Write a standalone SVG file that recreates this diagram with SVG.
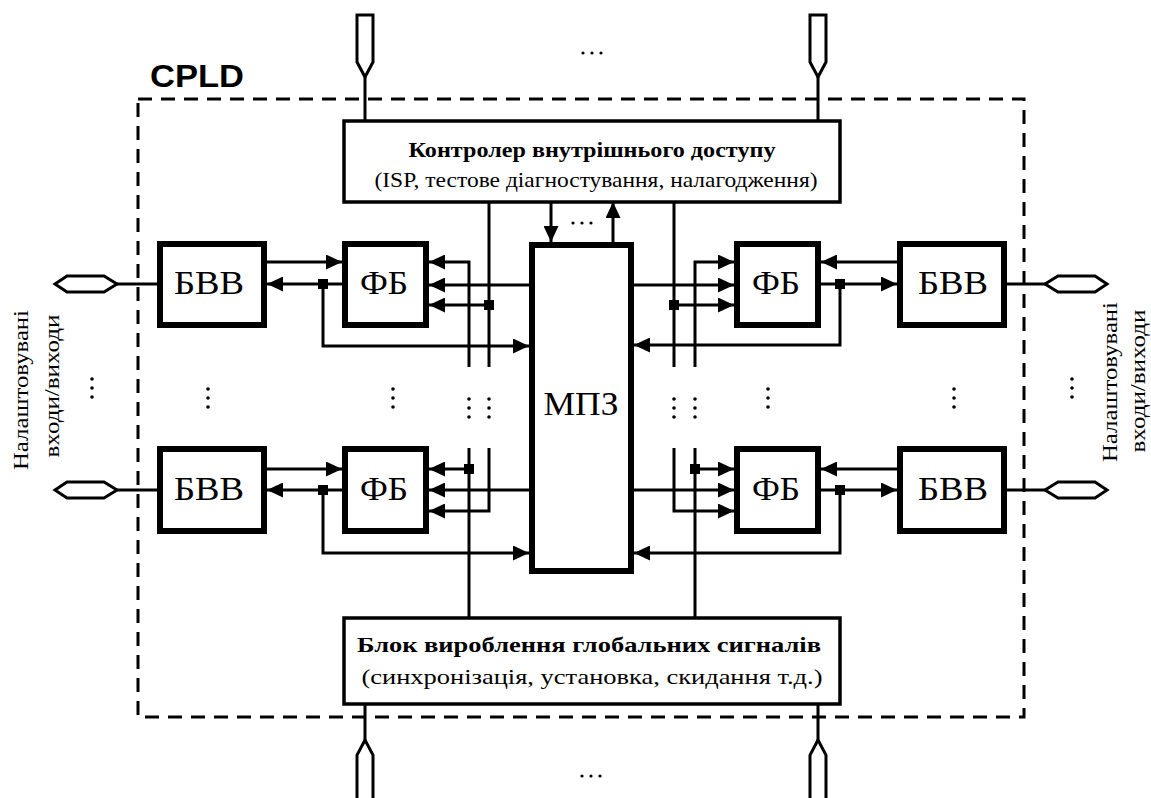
<svg xmlns="http://www.w3.org/2000/svg" width="1151" height="798" viewBox="0 0 1151 798">
<style>
.bx{fill:#fff;stroke:#000;stroke-width:6}
.cb{fill:#fff;stroke:#000;stroke-width:3.5}
.ln{fill:none;stroke:#000;stroke-width:3}
.pin{fill:#fff;stroke:#000;stroke-width:3;stroke-linejoin:miter}
.t{font-family:"Liberation Serif","DejaVu Serif","Times New Roman",serif;fill:#000}
.big{font-size:33px}
.ttl{font-size:22px;font-weight:bold}
.sub{font-size:21px}
.rot{font-size:22px}
.dot{fill:#000}
</style>
<defs>
<marker id="a" markerUnits="userSpaceOnUse" markerWidth="17" markerHeight="15" refX="16" refY="7.5" orient="auto">
<path d="M0,0 L16,7.5 L0,15 z" fill="#000"/>
</marker>
<g id="vd"><circle cx="0" cy="0" r="1.8"/><circle cx="0" cy="9" r="1.8"/><circle cx="0" cy="18" r="1.8"/></g>
<g id="hd"><circle cx="0" cy="0" r="1.6"/><circle cx="9" cy="0" r="1.6"/><circle cx="18" cy="0" r="1.6"/></g>
</defs>
<rect x="0" y="0" width="1151" height="798" fill="#fff"/>
<g id="cpld-frame">
<rect x="138" y="99" width="886" height="618" fill="none" stroke="#000" stroke-width="3" stroke-dasharray="14 9"/>
<text x="150" y="87" font-family="Liberation Sans, Arial, sans-serif" font-size="31" font-weight="bold" textLength="94" lengthAdjust="spacingAndGlyphs">CPLD</text>
</g>
<g id="connectors">
<path class="ln" d="M365,77 V120 M818,77 V120"/>
<path class="ln" d="M365,704 V740 M818,704 V740"/>
<path class="ln" d="M551,202 V242" marker-end="url(#a)"/>
<path class="ln" d="M613,242 V202" marker-end="url(#a)"/>
<path class="ln" d="M117,284 H157 M117,490 H157"/>
<path class="ln" d="M1007,284 H1045 M1007,490 H1045"/>
<path class="ln" d="M267,262 H342" marker-end="url(#a)"/>
<path class="ln" d="M342,284 H267" marker-end="url(#a)"/>
<path class="ln" d="M323,284 V346 H529" marker-end="url(#a)"/>
<path class="ln" d="M469,367 V262 H429" marker-end="url(#a)"/>
<path class="ln" d="M529,285 H429" marker-end="url(#a)"/>
<path class="ln" d="M489,305 H429" marker-end="url(#a)"/>
<path class="ln" d="M489,202 V367"/>
<path class="ln" d="M267,469 H342" marker-end="url(#a)"/>
<path class="ln" d="M342,490 H267" marker-end="url(#a)"/>
<path class="ln" d="M323,490 V553 H529" marker-end="url(#a)"/>
<path class="ln" d="M469,448 V618"/>
<path class="ln" d="M469,469 H429" marker-end="url(#a)"/>
<path class="ln" d="M529,490 H429" marker-end="url(#a)"/>
<path class="ln" d="M489,448 V511 H429" marker-end="url(#a)"/>
<path class="ln" d="M674,202 V367"/>
<path class="ln" d="M674,305 H734" marker-end="url(#a)"/>
<path class="ln" d="M695,367 V262 H734" marker-end="url(#a)"/>
<path class="ln" d="M634,285 H734" marker-end="url(#a)"/>
<path class="ln" d="M897,262 H821" marker-end="url(#a)"/>
<path class="ln" d="M821,284 H897" marker-end="url(#a)"/>
<path class="ln" d="M840,284 V345 H634" marker-end="url(#a)"/>
<path class="ln" d="M674,448 V511 H734" marker-end="url(#a)"/>
<path class="ln" d="M695,448 V618"/>
<path class="ln" d="M695,469 H734" marker-end="url(#a)"/>
<path class="ln" d="M634,490 H734" marker-end="url(#a)"/>
<path class="ln" d="M897,469 H821" marker-end="url(#a)"/>
<path class="ln" d="M821,490 H897" marker-end="url(#a)"/>
<path class="ln" d="M840,490 V553 H634" marker-end="url(#a)"/>
<g fill="#000">
<rect x="318" y="279" width="10" height="10"/>
<rect x="484" y="300" width="10" height="10"/>
<rect x="318" y="485" width="10" height="10"/>
<rect x="464" y="464" width="10" height="10"/>
<rect x="669" y="300" width="10" height="10"/>
<rect x="835" y="279" width="10" height="10"/>
<rect x="690" y="464" width="10" height="10"/>
<rect x="835" y="485" width="10" height="10"/>
</g>
</g>
<g id="pin-top-1"><polygon class="pin" points="357,15 373,15 373,62 365,77 357,62"/></g>
<g id="pin-top-2"><polygon class="pin" points="810,15 826,15 826,62 818,77 810,62"/></g>
<g id="pin-bot-1"><polygon class="pin" points="365,740 373,755 373,800 357,800 357,755"/></g>
<g id="pin-bot-2"><polygon class="pin" points="818,740 826,755 826,800 810,800 810,755"/></g>
<g id="pin-l-1"><polygon class="pin" points="55,284 67,276 104,276 117,284 104,292 67,292"/></g>
<g id="pin-l-2"><polygon class="pin" points="55,490 67,482 104,482 117,490 104,498 67,498"/></g>
<g id="pin-r-1"><polygon class="pin" points="1045,284 1058,276 1095,276 1107,284 1095,292 1058,292"/></g>
<g id="pin-r-2"><polygon class="pin" points="1045,490 1058,482 1095,482 1107,490 1095,498 1058,498"/></g>
<g id="controller">
<rect class="cb" x="344" y="121" width="496" height="81"/>
<text class="t ttl" x="592" y="157" text-anchor="middle" textLength="367" lengthAdjust="spacingAndGlyphs">Контролер внутрішнього доступу</text>
<text class="t sub" x="596" y="187" text-anchor="middle" textLength="443" lengthAdjust="spacingAndGlyphs">(ISP, тестове діагностування, налагодження)</text>
</g>
<g id="global-block">
<rect class="cb" x="344" y="618" width="496" height="86"/>
<text class="t ttl" x="589" y="652" text-anchor="middle" textLength="464" lengthAdjust="spacingAndGlyphs">Блок вироблення глобальних сигналів</text>
<text class="t sub" x="592" y="684" text-anchor="middle" textLength="461" lengthAdjust="spacingAndGlyphs">(синхронізація, установка, скидання т.д.)</text>
</g>
<g id="mpz">
<rect class="bx" x="532" y="245" width="99" height="326"/>
<text class="t big" x="581" y="415" text-anchor="middle" textLength="75" lengthAdjust="spacingAndGlyphs">МПЗ</text>
</g>
<g id="bvv-ul"><rect class="bx" x="160" y="244" width="104" height="81"/><text class="t big" x="209" y="294" text-anchor="middle" textLength="70" lengthAdjust="spacingAndGlyphs">БВВ</text></g>
<g id="fb-ul"><rect class="bx" x="345" y="244" width="81" height="81"/><text class="t big" x="384" y="294" text-anchor="middle" textLength="48" lengthAdjust="spacingAndGlyphs">ФБ</text></g>
<g id="bvv-ll"><rect class="bx" x="160" y="449" width="104" height="82"/><text class="t big" x="209" y="500" text-anchor="middle" textLength="70" lengthAdjust="spacingAndGlyphs">БВВ</text></g>
<g id="fb-ll"><rect class="bx" x="345" y="449" width="81" height="82"/><text class="t big" x="384" y="500" text-anchor="middle" textLength="48" lengthAdjust="spacingAndGlyphs">ФБ</text></g>
<g id="fb-ur"><rect class="bx" x="737" y="244" width="81" height="81"/><text class="t big" x="776" y="294" text-anchor="middle" textLength="48" lengthAdjust="spacingAndGlyphs">ФБ</text></g>
<g id="bvv-ur"><rect class="bx" x="900" y="244" width="104" height="81"/><text class="t big" x="953" y="294" text-anchor="middle" textLength="70" lengthAdjust="spacingAndGlyphs">БВВ</text></g>
<g id="fb-lr"><rect class="bx" x="737" y="449" width="81" height="82"/><text class="t big" x="776" y="500" text-anchor="middle" textLength="48" lengthAdjust="spacingAndGlyphs">ФБ</text></g>
<g id="bvv-lr"><rect class="bx" x="900" y="449" width="104" height="82"/><text class="t big" x="953" y="500" text-anchor="middle" textLength="70" lengthAdjust="spacingAndGlyphs">БВВ</text></g>
<g id="ellipses" class="dot">
<use href="#hd" x="583" y="53"/>
<use href="#hd" x="573" y="223"/>
<use href="#hd" x="582" y="776"/>
<use href="#vd" x="92" y="379"/>
<use href="#vd" x="208" y="389"/>
<use href="#vd" x="393" y="389"/>
<use href="#vd" x="469" y="399"/>
<use href="#vd" x="489" y="399"/>
<use href="#vd" x="674" y="399"/>
<use href="#vd" x="695" y="399"/>
<use href="#vd" x="768" y="389"/>
<use href="#vd" x="954" y="389"/>
<use href="#vd" x="1072" y="379"/>
</g>
<g id="io-label-left">
<text class="t rot" transform="translate(28,390) rotate(-90)" text-anchor="middle" textLength="160" lengthAdjust="spacingAndGlyphs">Налаштовувані</text>
<text class="t rot" transform="translate(59,386) rotate(-90)" text-anchor="middle" textLength="143" lengthAdjust="spacingAndGlyphs">входи/виходи</text>
</g>
<g id="io-label-right">
<text class="t rot" transform="translate(1117,382) rotate(-90)" text-anchor="middle" textLength="160" lengthAdjust="spacingAndGlyphs">Налаштовувані</text>
<text class="t rot" transform="translate(1145,381) rotate(-90)" text-anchor="middle" textLength="143" lengthAdjust="spacingAndGlyphs">входи/виходи</text>
</g>
</svg>
